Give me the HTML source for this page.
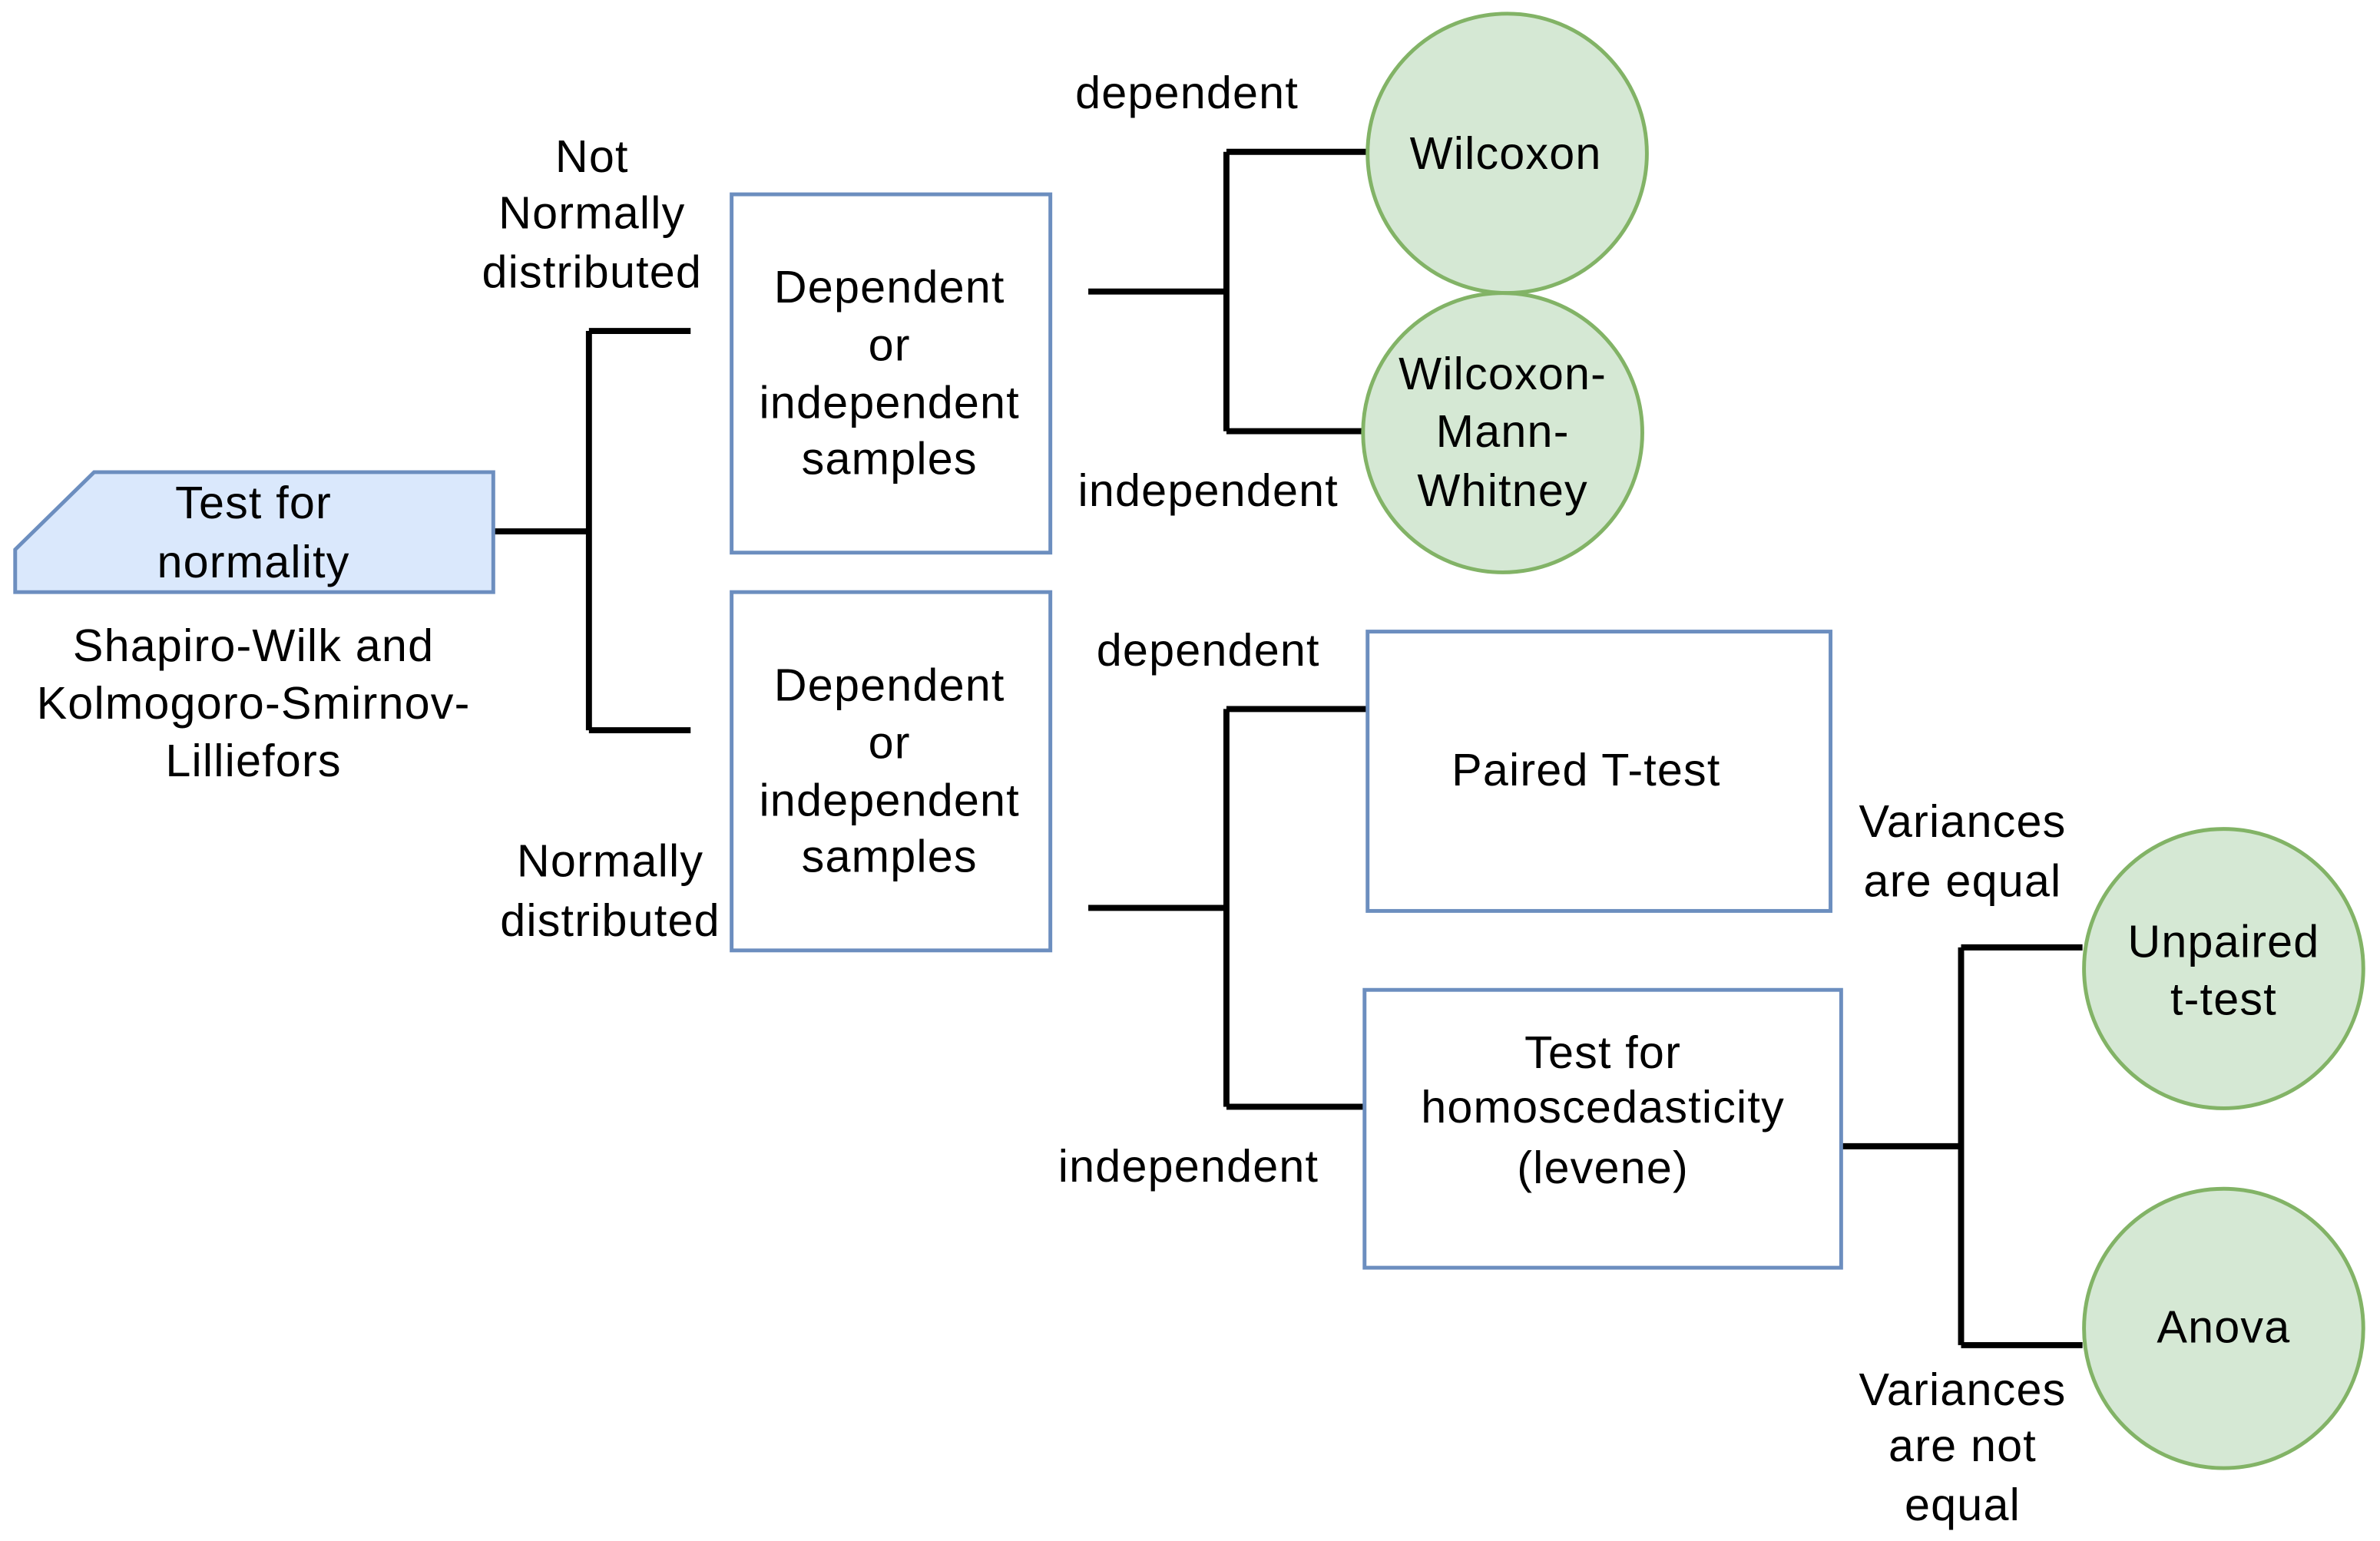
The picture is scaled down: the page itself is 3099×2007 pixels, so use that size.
<!DOCTYPE html>
<html><head><meta charset="utf-8"><style>
html,body{margin:0;padding:0;background:#fff;}
svg{display:block;}
text{font-family:"Liberation Sans",Arial,sans-serif;font-size:30px;letter-spacing:0.6px;fill:#000;text-anchor:middle;dominant-baseline:central;}
</style></head><body>
<svg width="3099" height="2007" viewBox="0 0 1568 1015" preserveAspectRatio="none" xmlns="http://www.w3.org/2000/svg">
<g fill="none" stroke="#000" stroke-width="4">
<path d="M325 350H388M388 218V481M388 218H455M388 481H455"/>
<path d="M717 192H808M808 100V284M808 100H900M808 284H898"/>
<path d="M717 598H808M808 467V729M808 467H900M808 729H898"/>
<path d="M1213 755H1292M1292 624V886M1292 624H1372M1292 886H1372"/>
</g>
<polygon points="10,362 62,311 325,311 325,390 10,390" fill="#dae8fc" stroke="#6c8ebf" stroke-width="2.5"/>
<g fill="#fff" stroke="#6c8ebf" stroke-width="2.5">
<rect x="482" y="128" width="210" height="236"/>
<rect x="482" y="390" width="210" height="236"/>
<rect x="901" y="416" width="305" height="184"/>
<rect x="899" y="652" width="314" height="183"/>
</g>
<g fill="#d5e8d4" stroke="#82b366" stroke-width="2.5">
<circle cx="993" cy="101" r="92"/>
<circle cx="990" cy="285" r="92"/>
<circle cx="1465" cy="638" r="92"/>
<circle cx="1465" cy="875" r="92"/>
</g>
<text x="167" y="331">Test for</text><text x="167" y="370">normality</text>
<text x="167" y="425">Shapiro-Wilk and</text><text x="167" y="463">Kolmogoro-Smirnov-</text><text x="167" y="501">Lilliefors</text>
<text x="390" y="103">Not</text><text x="390" y="140">Normally</text><text x="390" y="179">distributed</text>
<text x="402" y="567">Normally</text><text x="402" y="606">distributed</text>
<text x="586" y="189">Dependent</text><text x="586" y="227">or</text><text x="586" y="265">independent</text><text x="586" y="302">samples</text>
<text x="586" y="451">Dependent</text><text x="586" y="489">or</text><text x="586" y="527">independent</text><text x="586" y="564">samples</text>
<text x="782" y="61">dependent</text><text x="796" y="323">independent</text>
<text x="796" y="428">dependent</text><text x="783" y="768">independent</text>
<text x="992" y="101">Wilcoxon</text>
<text x="990" y="246">Wilcoxon-</text><text x="990" y="284">Mann-</text><text x="990" y="323">Whitney</text>
<text x="1045" y="507">Paired T-test</text>
<text x="1056" y="693">Test for</text><text x="1056" y="729">homoscedasticity</text><text x="1056" y="769">(levene)</text>
<text x="1465" y="620">Unpaired</text><text x="1465" y="658">t-test</text>
<text x="1465" y="874">Anova</text>
<text x="1293" y="541">Variances</text><text x="1293" y="580">are equal</text>
<text x="1293" y="915">Variances</text><text x="1293" y="952">are not</text><text x="1293" y="991">equal</text>
</svg>
</body></html>
